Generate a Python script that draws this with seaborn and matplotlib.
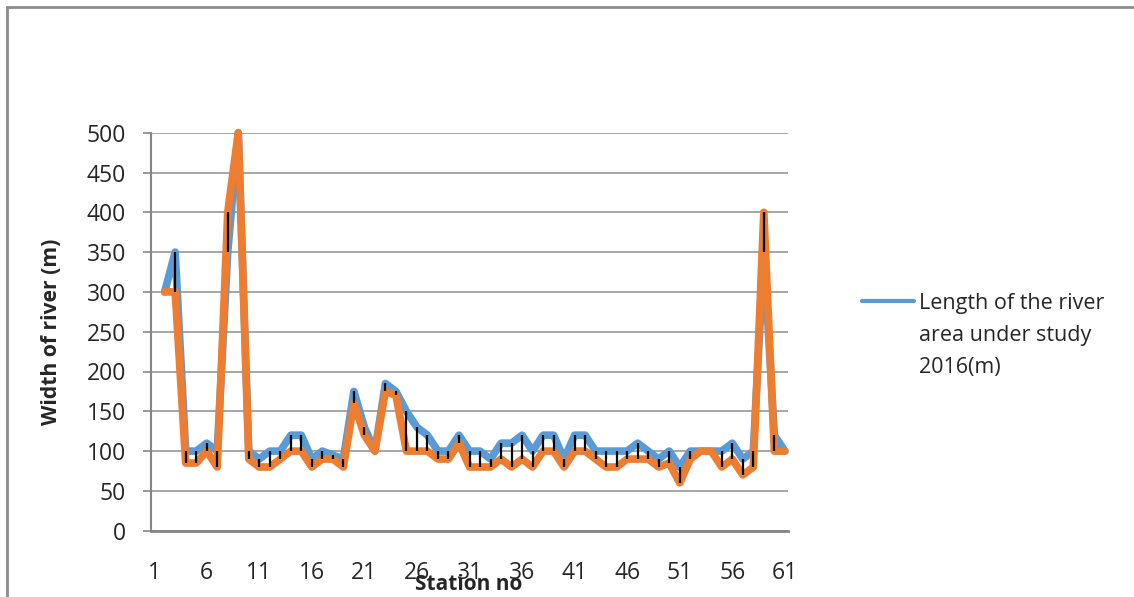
import numpy as np
import pandas as pd
import matplotlib
matplotlib.use("Agg")
import matplotlib.pyplot as plt
from matplotlib.lines import Line2D
import seaborn as sns

# station numbers (the first category is empty in the source chart)
stations = list(range(2, 62))

# blue series (legend entry)
width_2016 = [300, 350, 100, 100, 110, 100, 350, 500, 100, 90,
              100, 100, 120, 120, 90, 100, 95, 90, 175, 130,
              100, 185, 175, 150, 130, 120, 100, 100, 120, 100,
              100, 90, 110, 110, 120, 100, 120, 120, 90, 120,
              120, 100, 100, 100, 100, 110, 100, 90, 100, 80,
              100, 100, 100, 100, 110, 90, 100, 350, 120, 100]

# orange series (no legend entry in the original)
width_other = [300, 300, 85, 85, 100, 80, 400, 500, 90, 80,
               80, 90, 100, 100, 80, 90, 90, 80, 160, 120,
               100, 175, 170, 100, 100, 100, 90, 90, 110, 80,
               80, 80, 90, 80, 90, 80, 100, 100, 80, 100,
               100, 90, 80, 80, 90, 90, 90, 80, 85, 60,
               90, 100, 100, 80, 90, 70, 80, 400, 100, 100]

legend_lines = ["Length of the river", "area under study", "2016(m)"]
x_ticks = list(range(1, 62, 5))
y_ticks = list(range(0, 501, 50))

BLUE = "#5B9BD5"
ORANGE = "#ED7D31"
GRID = "#A6A6A6"
AXIS = "#868686"

W, H = 1134, 597

df = pd.DataFrame({
    "station": stations * 2,
    "width": width_2016 + width_other,
    "series": ["a"] * len(stations) + ["b"] * len(stations),
})

sns.set_style("white")
plt.rcParams["font.family"] = ["Open Sans", "DejaVu Sans"]

fig = plt.figure(figsize=(W / 100, H / 100), dpi=100)
ax = fig.add_axes([151 / W, 1 - 530.7 / H, 637 / W, 398 / H])

sns.lineplot(data=df, x="station", y="width", hue="series",
             palette={"a": BLUE, "b": ORANGE}, linewidth=5.5,
             legend=False, ax=ax, zorder=2)
for ln in ax.get_lines():
    ln.set_solid_joinstyle("round")
    ln.set_solid_capstyle("round")
    ln.set_clip_on(False)

# high-low lines between the two series
lo = np.minimum(width_2016, width_other)
hi = np.maximum(width_2016, width_other)
ax.vlines(stations, lo, hi, color="black", linewidth=1.6, zorder=4)

ax.set_xlim(0.7, 61.3)
ax.set_ylim(0, 500)
ax.set_xticks(x_ticks)
ax.set_xticklabels([str(t) for t in x_ticks])
ax.set_yticks(y_ticks)
ax.tick_params(axis="x", length=0, pad=22, labelsize=16.5)
ax.tick_params(axis="y", length=6, width=1.2, color=AXIS, pad=12,
               labelsize=16.5, left=True)
ax.yaxis.grid(True, color=GRID, linewidth=1.4, zorder=0)
ax.set_axisbelow(True)

for side in ["top", "right"]:
    ax.spines[side].set_visible(False)
ax.spines["left"].set_color(AXIS)
ax.spines["left"].set_linewidth(1.5)
ax.spines["bottom"].set_color(AXIS)
ax.spines["bottom"].set_linewidth(2)

ax.set_xlabel("Station no", fontsize=15, fontweight="bold", va="baseline")
ax.xaxis.set_label_coords((469 - 151) / 637, (530.7 - 590) / 398)
ax.xaxis.label.set_zorder(5)
ax.set_ylabel("Width of river (m)", fontsize=15.2, fontweight="bold", va="center")
ax.yaxis.set_label_coords((52 - 151) / 637, 0.5)

# legend drawn by hand so the line sits beside the first text row
fig.add_artist(Line2D([862 / W, 914 / W], [1 - 301 / H] * 2,
                      color=BLUE, linewidth=3, solid_capstyle="round"))
for i, txt in enumerate(legend_lines):
    fig.text(919 / W, 1 - (309 + 32 * i) / H, txt, fontsize=15.5,
             va="baseline", ha="left")

# chart frame (top and left edges visible)
fig.add_artist(Line2D([7 / W, 1.0], [1 - 7 / H] * 2, color="#8C8C8C", linewidth=2))
fig.add_artist(Line2D([7 / W] * 2, [0, 1 - 7 / H], color="#8C8C8C", linewidth=2))

fig.savefig("out.png", dpi=100)
